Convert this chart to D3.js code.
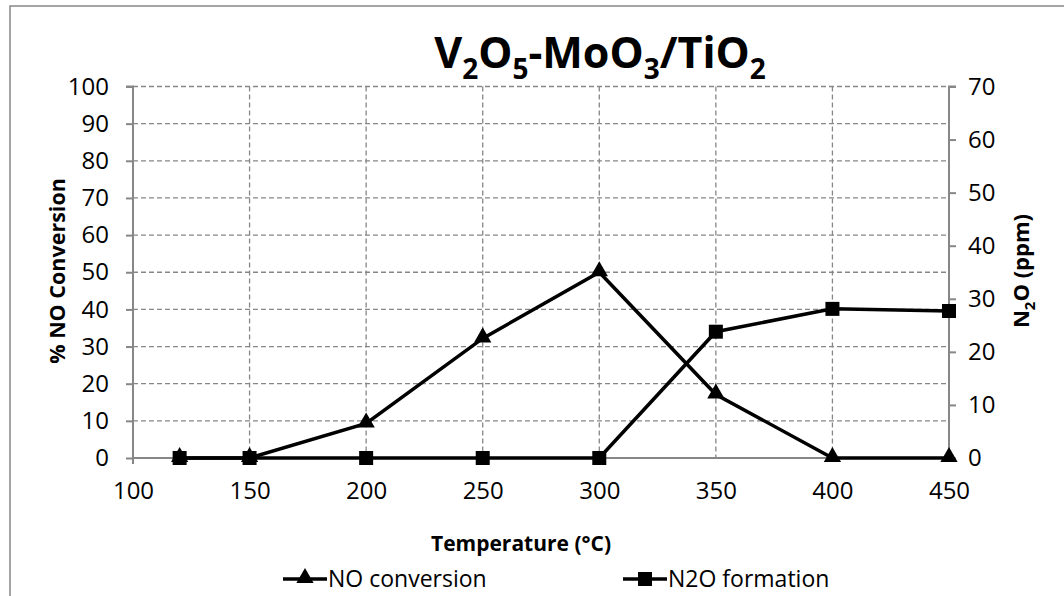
<!DOCTYPE html>
<html><head><meta charset="utf-8">
<script src="https://cdn.jsdelivr.net/npm/d3@7"></script>
<style>body{margin:0;background:#fff}svg{display:block}text{font-family:"Open Sans",sans-serif}</style>
</head><body>
<svg id="c" width="1064" height="596"></svg>
<script>
const temps = [120, 150, 200, 250, 300, 350, 400, 450];
const noConversion = [0, 0, 9.3, 32.2, 50, 17.1, 0, 0];
const n2oFormation = [0, 0, 0, 0, 0, 23.8, 28.1, 27.7];
const xTicks = [100, 150, 200, 250, 300, 350, 400, 450];
const yLeftTicks = [0, 10, 20, 30, 40, 50, 60, 70, 80, 90, 100];
const yRightTicks = [0, 10, 20, 30, 40, 50, 60, 70];
const seriesNames = ["NO conversion", "N2O formation"];

const svg = d3.select("#c");
const L = 133, R = 949, T = 86.5, B = 458;
const x = d3.scaleLinear().domain([100, 450]).range([L, R]);
const yL = d3.scaleLinear().domain([0, 100]).range([B, T]);
const yR = d3.scaleLinear().domain([0, 70]).range([B, T]);
const grey = "#878787";

// chart border
svg.append("rect").attr("x", 10).attr("y", 6).attr("width", 1070).attr("height", 610)
  .attr("fill", "none").attr("stroke", grey).attr("stroke-width", 1.5);

// grid
const g = svg.append("g");
g.selectAll(".hg").data(yLeftTicks.filter(d => d > 0)).join("line")
  .attr("x1", L).attr("x2", R).attr("y1", d => yL(d)).attr("y2", d => yL(d))
  .attr("stroke", grey).attr("stroke-width", 1.3).attr("stroke-dasharray", "5,3");
g.selectAll(".vg").data(xTicks.filter(d => d > 100 && d < 450)).join("line")
  .attr("x1", d => x(d)).attr("x2", d => x(d)).attr("y1", T).attr("y2", B)
  .attr("stroke", grey).attr("stroke-width", 1.3).attr("stroke-dasharray", "5,3");

// axes
const axL = d3.axisLeft(yL).tickValues(yLeftTicks).tickSize(7).tickPadding(17);
const gl = svg.append("g").attr("transform", `translate(${L},0)`).call(axL);
const axR = d3.axisRight(yR).tickValues(yRightTicks).tickSize(7).tickPadding(12);
const gr = svg.append("g").attr("transform", `translate(${R},0)`).call(axR);
const axB = d3.axisBottom(x).tickValues(xTicks).tickSize(0).tickPadding(24);
const gb = svg.append("g").attr("transform", `translate(0,${B})`).call(axB);
[gl, gr, gb].forEach(a => {
  a.select(".domain").attr("stroke", grey).attr("stroke-width", 2);
  a.selectAll(".tick line").attr("stroke", grey).attr("stroke-width", 2);
  a.selectAll("text").attr("font-size", 24).attr("fill", "#000").attr("font-family", '"Open Sans",sans-serif');
});
gl.select(".domain").attr("d", `M-7,${T}H0V${B + 6}`);
gr.select(".domain").attr("d", `M7,${T}H0V${B}`);
gb.select(".domain").attr("d", `M${L},0H${R}`);

// lines
const lineNO = d3.line().x((d, i) => x(temps[i])).y(d => yL(d));
const lineN2O = d3.line().x((d, i) => x(temps[i])).y(d => yR(d));
svg.append("path").attr("d", lineNO(noConversion)).attr("fill", "none").attr("stroke", "#000").attr("stroke-width", 3.5);
const tri = d3.symbol().type(d3.symbolTriangle).size(130);
svg.selectAll(".tri").data(noConversion).join("path")
  .attr("d", tri).attr("transform", (d, i) => `translate(${x(temps[i])},${yL(d) - 1})`).attr("fill", "#000");
svg.append("path").attr("d", lineN2O(n2oFormation)).attr("fill", "none").attr("stroke", "#000").attr("stroke-width", 3.5);
svg.selectAll(".sq").data(n2oFormation).join("rect")
  .attr("x", (d, i) => x(temps[i]) - 7).attr("y", d => yR(d) - 7).attr("width", 14).attr("height", 14).attr("fill", "#000");

// title
const title = svg.append("text").attr("x", 600).attr("y", 68).attr("text-anchor", "middle")
  .attr("font-size", 43).attr("font-weight", "bold").attr("fill", "#000");
[["V",0],["2",1],["O",0],["5",1],["-MoO",0],["3",1],["/TiO",0],["2",1]].forEach(([t, s], i, arr) => {
  const ts = title.append("tspan").text(t);
  if (s) ts.attr("font-size", 28).attr("dy", 11);
  else if (i > 0 && arr[i - 1][1]) ts.attr("dy", -11);
});

// axis titles
svg.append("text").attr("transform", "translate(65,271) rotate(-90)").attr("text-anchor", "middle")
  .attr("font-size", 21.5).attr("font-weight", "bold").text("% NO Conversion");
const rt = svg.append("text").attr("transform", "translate(1029,271) rotate(-90)").attr("text-anchor", "middle")
  .attr("font-size", 22).attr("font-weight", "bold");
rt.append("tspan").text("N");
rt.append("tspan").text("2").attr("font-size", 15).attr("dy", 6);
rt.append("tspan").text("O (ppm)").attr("dy", -6);
svg.append("text").attr("x", 521).attr("y", 551).attr("text-anchor", "middle")
  .attr("font-size", 21).attr("font-weight", "bold").text("Temperature (°C)");

// legend
const legX = [283, 623];
seriesNames.forEach((n, i) => {
  const lg = svg.append("g").attr("transform", `translate(${legX[i]},579)`);
  lg.append("line").attr("x1", 0).attr("x2", 44).attr("stroke", "#000").attr("stroke-width", 3.5);
  if (i === 0) lg.append("path").attr("d", tri).attr("transform", "translate(22,-1)");
  else lg.append("rect").attr("x", 15).attr("y", -7).attr("width", 14).attr("height", 14);
  lg.append("text").attr("x", 45).attr("y", 8).attr("font-size", 23).text(n);
});
</script>
</body></html>
